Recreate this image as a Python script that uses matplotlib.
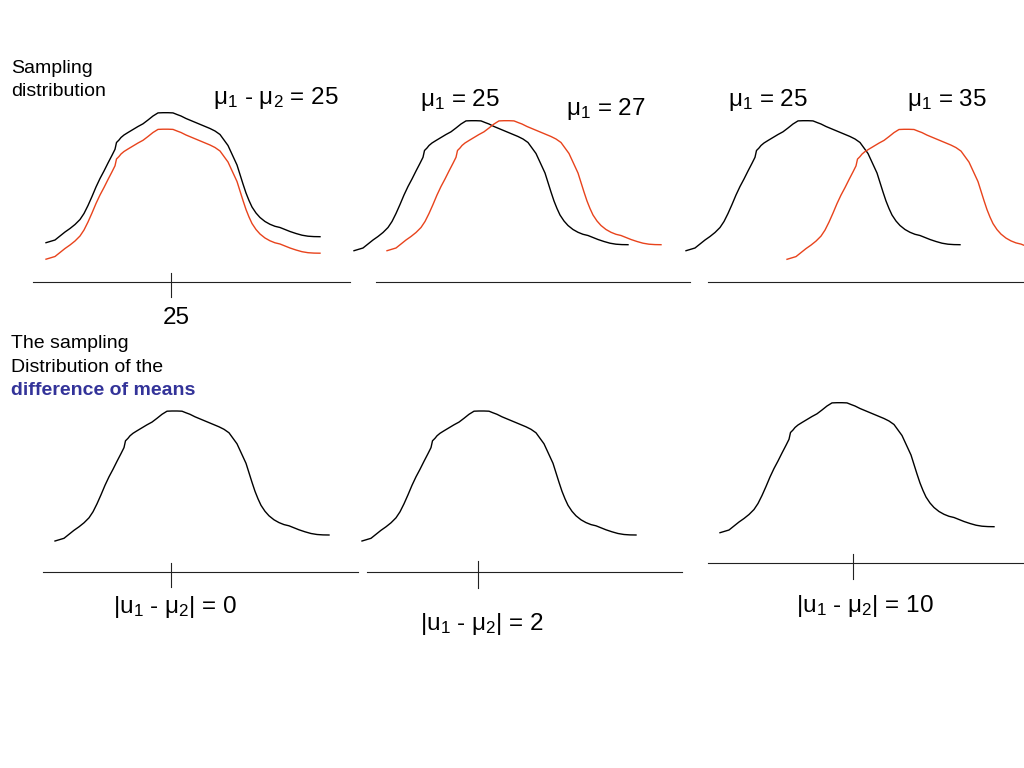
import numpy as np
import matplotlib.pyplot as plt

plt.rcParams['font.family'] = ['Liberation Sans', 'DejaVu Sans']
plt.rcParams['mathtext.fontset'] = 'custom'
plt.rcParams['mathtext.rm'] = 'Liberation Sans'
plt.rcParams['mathtext.it'] = 'Liberation Sans:italic'

# hand drawn bell curve (pixel coords of the first black curve)
curve_x = [46, 50, 55, 60, 65, 70, 75, 80, 84, 88, 92, 96, 100, 104, 108, 112, 115,
           116.5, 117.5, 119, 121, 124, 128, 133, 138, 143, 148, 153, 158, 163, 168,
           173, 177, 181, 186, 192, 198, 204, 210, 215, 220, 224, 228, 231, 234, 237,
           240, 243, 246, 249, 252, 256, 260, 265, 270, 275, 280, 285, 290, 296, 302,
           308, 314, 320]
curve_y = [242.7, 241.5, 240.0, 236.0, 232.0, 228.5, 224.5, 219.5, 213.5, 205.5, 196.5,
           187.0, 178.5, 171.0, 163.0, 155.3, 149.3, 142.5, 141.5, 140.0, 137.5, 135.0,
           132.5, 129.5, 126.5, 123.8, 120.0, 116.0, 112.9, 112.7, 112.7, 112.9, 114.5,
           116.0, 118.5, 121.0, 123.5, 126.0, 128.5, 131.0, 134.5, 140.0, 145.5, 152.0,
           158.5, 165.0, 174.5, 184.0, 193.0, 200.5, 207.0, 213.0, 217.5, 221.5, 224.3,
           226.3, 227.5, 229.5, 231.5, 233.5, 235.2, 236.2, 236.6, 236.7]

# where each copy of the curve goes
curve_shift_x = [0, 0, 308, 341, 640, 741, 9, 316, 674]
curve_shift_y = [0, 16.5, 8, 8, 8, 16.6, 298.3, 298.3, 290]
curve_color = ['black', '#E8431C', 'black', '#E8431C', 'black', '#E8431C',
               'black', 'black', 'black']

# horizontal axis segments
axis_x0 = [33, 376, 708, 43, 367, 708]
axis_x1 = [350, 690, 1024, 358, 682, 1024]
axis_y = [281.5, 281.5, 281.5, 571.7, 571.7, 563]

# tick marks
tick_x = [171, 170.7, 477.7, 852.7]
tick_y0 = [272.7, 563, 561, 554]
tick_y1 = [297.3, 587, 588, 579]

# labels
mean_labels = [r'μ$_1$ - μ$_2$ = 25', r'μ$_1$ = 25', r'μ$_1$ = 27',
               r'μ$_1$ = 25', r'μ$_1$ = 35', '25',
               r'|u$_1$ - μ$_2$| = 0', r'|u$_1$ - μ$_2$| = 2', r'|u$_1$ - μ$_2$| = 10']
mean_x = [213, 420, 566, 728, 907, 163, 113, 420, 796]
mean_y = [104, 106, 115, 106, 106, 324, 613, 630, 612]

side_lines = ['Sampling', 'distribution', 'The sampling', 'Distribution of the',
              'difference of means']
side_y = [73, 96, 348, 372, 395]
side_color = ['black', 'black', 'black', 'black', '#333399']
side_weight = ['normal', 'normal', 'normal', 'normal', 'bold']

fig = plt.figure(figsize=(10.24, 7.68), dpi=100)
ax = fig.add_axes([0, 0, 1, 1])
ax.set_xlim(0, 1024)
ax.set_ylim(768, 0)
ax.axis('off')

cx = np.array(curve_x)
cy = np.array(curve_y)
for dx, dy, c in zip(curve_shift_x, curve_shift_y, curve_color):
    ax.plot(cx + dx, cy + dy, color=c, lw=1.0, solid_joinstyle='round')

for x0, x1, y in zip(axis_x0, axis_x1, axis_y):
    ax.plot([x0, x1], [y, y], color='#222222', lw=0.8)
for x, y0, y1 in zip(tick_x, tick_y0, tick_y1):
    ax.plot([x, x], [y0, y1], color='#222222', lw=0.8)

for s, x, y in zip(mean_labels, mean_x, mean_y):
    ax.text(x, y, s, fontsize=17.5, ha='left', va='baseline')

for s, y, c, w in zip(side_lines, side_y, side_color, side_weight):
    ax.text(11, y, s, fontsize=14, color=c, fontweight=w, ha='left', va='baseline')

fig.savefig('out.png', dpi=100)
